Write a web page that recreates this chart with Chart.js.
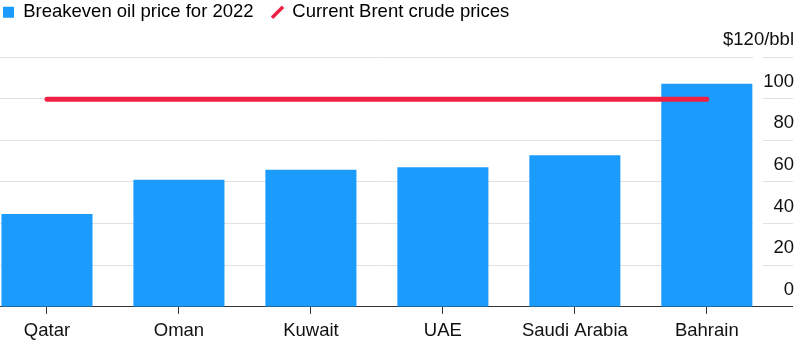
<!DOCTYPE html>
<html>
<head>
<meta charset="utf-8">
<script src="https://cdn.jsdelivr.net/npm/chart.js@4"></script>
<style>
  html, body { margin: 0; padding: 0; background: #fff; }
  #wrap { width: 807px; height: 359px; position: relative; }
</style>
</head>
<body>
<div id="wrap"><canvas id="c"></canvas></div>
<script>
const categories = ['Qatar', 'Oman', 'Kuwait', 'UAE', 'Saudi Arabia', 'Bahrain'];
const breakeven = [44.6, 61.0, 65.8, 67.1, 72.8, 107.2];
const brentPrice = [99.7, 99.7, 99.7, 99.7, 99.7, 99.7];
const yTicks = [0, 20, 40, 60, 80, 100, 120];
const yTickLabels = ['0', '20', '40', '60', '80', '100', '$120/bbl'];
const seriesNames = ['Breakeven oil price for 2022', 'Current Brent crude prices'];

const BLUE = '#1b9cfc';
const RED = '#ee2145';
const GRID = '#e1e1e1';
const AXIS = '#333333';
const FONT = { family: 'Liberation Sans, Arial, sans-serif', size: 18.5 };

const legendHeight = {
  id: 'legendHeight',
  beforeInit(chart) {
    const fit = chart.legend.fit;
    chart.legend.fit = function () { fit.call(this); this.height = 57; };
  }
};

new Chart(document.getElementById('c'), {
  plugins: [legendHeight],
  data: {
    datasets: [
      {
        type: 'line',
        label: seriesNames[1],
        data: categories.map((c, i) => ({ x: i, y: brentPrice[i] })),
        borderColor: RED,
        borderWidth: 5,
        borderCapStyle: 'round',
        pointRadius: 0,
        order: 0
      },
      {
        type: 'bar',
        label: seriesNames[0],
        data: categories.map((c, i) => ({ x: i, y: breakeven[i] })),
        backgroundColor: BLUE,
        borderWidth: 0,
        barPercentage: 0.69,
        categoryPercentage: 1,
        order: 1
      }
    ]
  },
  options: {
    responsive: true,
    maintainAspectRatio: false,
    animation: false,
    layout: { padding: { left: 0, right: 11, top: 0, bottom: 0 } },
    plugins: {
      tooltip: { enabled: false },
      legend: {
        display: true,
        position: 'top',
        align: 'start',
        labels: {
          usePointStyle: true,
          boxWidth: 11,
          boxHeight: 11,
          padding: 3,
          color: '#111',
          font: FONT,
          generateLabels() {
            return [
              { text: seriesNames[0] + '   ', fillStyle: BLUE, strokeStyle: BLUE, lineWidth: 0, pointStyle: 'rect', datasetIndex: 1, hidden: false },
              { text: seriesNames[1], fillStyle: RED, strokeStyle: RED, lineWidth: 3.5, pointStyle: 'line', rotation: -45, datasetIndex: 0, hidden: false }
            ];
          }
        }
      }
    },
    scales: {
      x: {
        type: 'linear',
        min: -0.356,
        max: 5.35,
        offset: false,
        grid: { display: true, offset: false, drawOnChartArea: false, drawTicks: true, tickLength: 7, color: AXIS, tickColor: AXIS, tickWidth: 1, lineWidth: 1 },
        border: { display: true, color: AXIS, width: 1 },
        afterBuildTicks(scale) { scale.ticks = categories.map((c, i) => ({ value: i })); },
        afterFit(scale) { scale.height = 49; },
        ticks: {
          includeBounds: false,
          stepSize: 1,
          autoSkip: false,
          maxRotation: 0,
          padding: 6,
          color: '#111',
          font: FONT,
          callback: (v) => categories[v] ?? ''
        }
      },
      y: {
        position: 'right',
        min: 0,
        max: 120,
        afterBuildTicks(scale) { scale.ticks = yTicks.map(v => ({ value: v })); },
        afterFit(scale) { scale.width = 43; },
        grid: {
          color: (ctx) => (ctx.tick && ctx.tick.value === 0 ? AXIS : GRID),
          tickColor: (ctx) => (ctx.tick && ctx.tick.value === 0 ? AXIS : GRID),
          lineWidth: 1,
          drawTicks: true,
          tickLength: 40,
          tickBorderDash: (ctx) => (ctx.tick && ctx.tick.value === 0 ? [] : [0, 10, 30, 100])
        },
        border: { display: false },
        ticks: {
          mirror: true,
          crossAlign: 'near',
          padding: 41,
          labelOffset: -17,
          color: '#111',
          font: FONT,
          callback: (v) => yTickLabels[yTicks.indexOf(v)] ?? ''
        }
      }
    }
  }
});
</script>
</body>
</html>
